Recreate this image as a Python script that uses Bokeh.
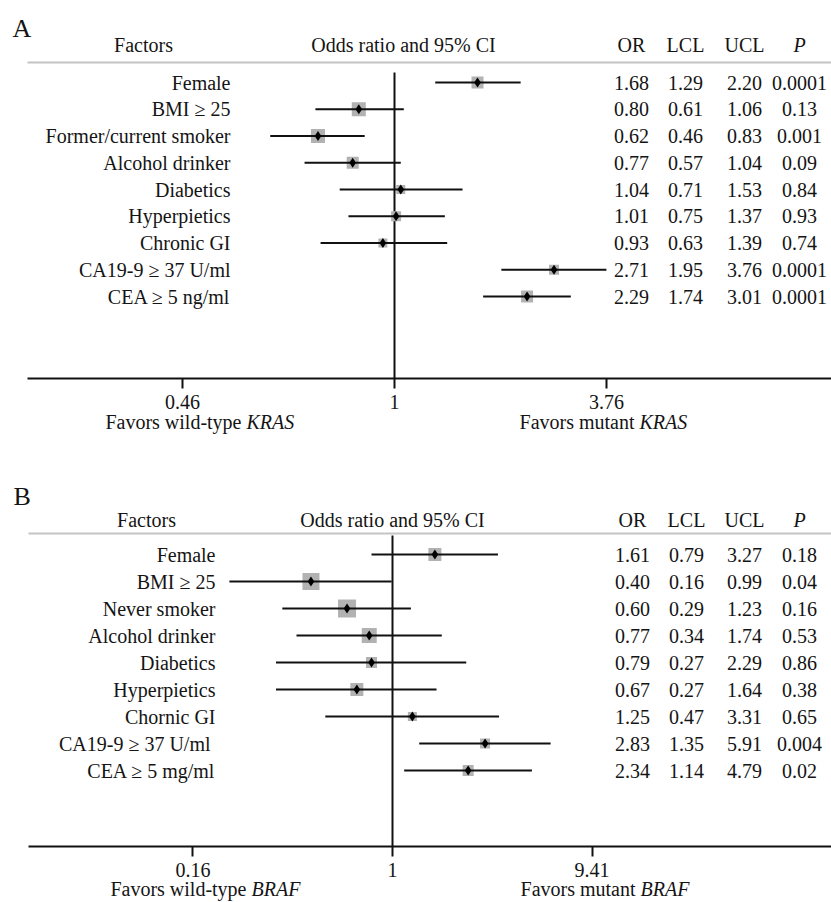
import numpy as np
from bokeh.plotting import figure
from bokeh.models import Range1d, FixedTicker
from bokeh.layouts import column
from bokeh.embed import file_html
from bokeh.resources import INLINE
from bokeh.core.properties import value

# ---------------- data: panel A (KRAS) ----------------
factors_a = ["Female", "BMI \u2265 25", "Former/current smoker", "Alcohol drinker",
             "Diabetics", "Hyperpietics", "Chronic GI", "CA19-9 \u2265 37 U/ml",
             "CEA \u2265 5 ng/ml"]
or_a = [1.68, 0.80, 0.62, 0.77, 1.04, 1.01, 0.93, 2.71, 2.29]
lcl_a = [1.29, 0.61, 0.46, 0.57, 0.71, 0.75, 0.63, 1.95, 1.74]
ucl_a = [2.20, 1.06, 0.83, 1.04, 1.53, 1.37, 1.39, 3.76, 3.01]
p_a = ["0.0001", "0.13", "0.001", "0.09", "0.84", "0.93", "0.74", "0.0001", "0.0001"]
weight_a = [12, 14, 14, 12, 9, 10, 9, 10, 12]
tick_labels_a = ["0.46", "1", "3.76"]
gene_a = "KRAS"

# ---------------- data: panel B (BRAF) ----------------
factors_b = ["Female", "BMI \u2265 25", "Never smoker", "Alcohol drinker",
             "Diabetics", "Hyperpietics", "Chornic GI", "CA19-9  \u2265 37 U/ml",
             "CEA \u2265 5 mg/ml"]
or_b = [1.61, 0.40, 0.60, 0.77, 0.79, 0.67, 1.25, 2.83, 2.34]
lcl_b = [0.79, 0.16, 0.29, 0.34, 0.27, 0.27, 0.47, 1.35, 1.14]
ucl_b = [3.27, 0.99, 1.23, 1.74, 2.29, 1.64, 3.31, 5.91, 4.79]
p_b = ["0.18", "0.04", "0.16", "0.53", "0.86", "0.38", "0.65", "0.004", "0.02"]
weight_b = [13, 17, 18, 15, 11, 13, 9, 10, 11]
tick_labels_b = ["0.16", "1", "9.41"]
gene_b = "BRAF"

headers = ["OR", "LCL", "UCL", "P"]

W = 831
FONT = "Liberation Serif"
TXT = "#141414"
FS = "20px"


def panel(letter, factors, ors, lcls, ucls, ps, weights, tick_labels, gene, L):
    H = L["H"]
    k = L["k"]
    one = L["one_px"]

    def X(px):
        return float(np.exp((px - one) / k))

    p = figure(width=W, height=H, x_axis_type="log", y_axis_location=None,
               x_range=Range1d(X(0), X(W)), y_range=Range1d(H, 0),
               output_backend="svg", toolbar_location=None,
               min_border=0, outline_line_color=None)
    p.xgrid.visible = False
    p.ygrid.visible = False
    p.background_fill_color = "white"
    p.border_fill_color = "white"

    n = len(factors)
    rows = [L["row0"] + i * L["step"] for i in range(n)]

    # axis
    hi = float(tick_labels[2])
    ticks = [1.0 / hi, 1.0, hi]
    ax = p.xaxis[0]
    ax.fixed_location = L["axis_y"]
    ax.ticker = FixedTicker(ticks=ticks)
    ax.major_label_overrides = {t: s for t, s in zip(ticks, tick_labels)}
    ax.bounds = (X(L["rule_x0"]), X(W))
    ax.axis_line_width = 2
    ax.axis_line_color = "#111111"
    ax.major_tick_line_width = 2
    ax.major_tick_line_color = "#111111"
    ax.major_tick_in = 0
    ax.major_tick_out = 10
    ax.minor_tick_in = 0
    ax.minor_tick_out = 0
    ax.major_label_standoff = 6
    ax.major_label_text_font = FONT
    ax.major_label_text_font_size = FS
    ax.major_label_text_color = TXT

    # panel letter
    p.text(x=[X(L["letter_x"])], y=[L["letter_y"]], text=[letter],
           text_font=value(FONT), text_font_size="26px", text_color=TXT,
           text_align="left", text_baseline="middle")

    # headers
    p.text(x=[X(L["fac_hdr"])], y=[L["hdr_y"]], text=["Factors"],
           text_font=value(FONT), text_font_size=FS, text_color=TXT,
           text_align="center", text_baseline="middle")
    p.text(x=[X(L["odds_hdr"])], y=[L["hdr_y"]], text=["Odds ratio and 95% CI"],
           text_font=value(FONT), text_font_size=FS, text_color=TXT,
           text_align="center", text_baseline="middle")
    cols = L["cols"]
    p.text(x=[X(c) for c in cols[:3]], y=[L["hdr_y"]] * 3, text=headers[:3],
           text_font=value(FONT), text_font_size=FS, text_color=TXT,
           text_align="center", text_baseline="middle")
    p.text(x=[X(cols[3])], y=[L["hdr_y"]], text=headers[3:],
           text_font=value(FONT), text_font_size=FS, text_color=TXT,
           text_font_style="italic", text_align="center", text_baseline="middle")

    # header rule
    p.segment(x0=[X(L["rule_x0"])], y0=[L["rule_y"]], x1=[X(W)], y1=[L["rule_y"]],
              line_color="#c4c4c4", line_width=2)

    # reference line at OR = 1
    p.segment(x0=[1.0], y0=[L["vtop"]], x1=[1.0], y1=[L["axis_y"]],
              line_color="#111111", line_width=2)

    # factor labels
    p.text(x=[X(L["fac_right"])] * n, y=rows, text=factors,
           text_font=value(FONT), text_font_size=FS, text_color=TXT,
           text_align="right", text_baseline="middle")

    # numeric columns
    for c, vals in zip(cols, [["%.2f" % v for v in ors], ["%.2f" % v for v in lcls],
                              ["%.2f" % v for v in ucls], ps]):
        p.text(x=[X(c)] * n, y=rows, text=vals,
               text_font=value(FONT), text_font_size=FS, text_color=TXT,
               text_align="center", text_baseline="middle")

    # forest marks
    p.scatter(x=ors, y=rows, marker="square", size=weights,
              fill_color="#b2b2b2", line_color=None)
    p.segment(x0=lcls, y0=rows, x1=ucls, y1=rows, line_color="#111111", line_width=2)
    p.scatter(x=ors, y=rows, marker="diamond", size=10,
              fill_color="#000000", line_color=None)

    # favors captions
    s1, s2 = L["fav_split"]
    p.text(x=[X(s1), X(s2)], y=[L["fav_y"]] * 2,
           text=["Favors wild-type", "Favors mutant"],
           text_font=value(FONT), text_font_size=FS, text_color=TXT,
           text_align="right", text_baseline="middle")
    p.text(x=[X(s1), X(s2)], y=[L["fav_y"]] * 2, text=[gene, gene], x_offset=5,
           text_font=value(FONT), text_font_size=FS, text_color=TXT,
           text_font_style="italic", text_align="left", text_baseline="middle")
    return p


LA = dict(H=446, k=160.0, one_px=394, fac_right=230, fac_hdr=143, odds_hdr=403,
          cols=[631, 685, 744, 799], letter_x=12, letter_y=28, hdr_y=44, rule_x0=27,
          rule_y=62, vtop=72, row0=82, step=26.75, axis_y=378, fav_y=421.5,
          fav_split=[241, 634])
LB = dict(H=456, k=89.0, one_px=392, fac_right=215, fac_hdr=146, odds_hdr=392,
          cols=[632, 686, 744, 799], letter_x=13, letter_y=49.5, hdr_y=73.5, rule_x0=28,
          rule_y=87, vtop=89, row0=108, step=27.0, axis_y=400, fav_y=442,
          fav_split=[246, 635])

pa = panel("A", factors_a, or_a, lcl_a, ucl_a, p_a, weight_a, tick_labels_a, gene_a, LA)
pb = panel("B", factors_b, or_b, lcl_b, ucl_b, p_b, weight_b, tick_labels_b, gene_b, LB)

layout = column(pa, pb, spacing=0)
open("out.html", "w").write(file_html(layout, INLINE))
